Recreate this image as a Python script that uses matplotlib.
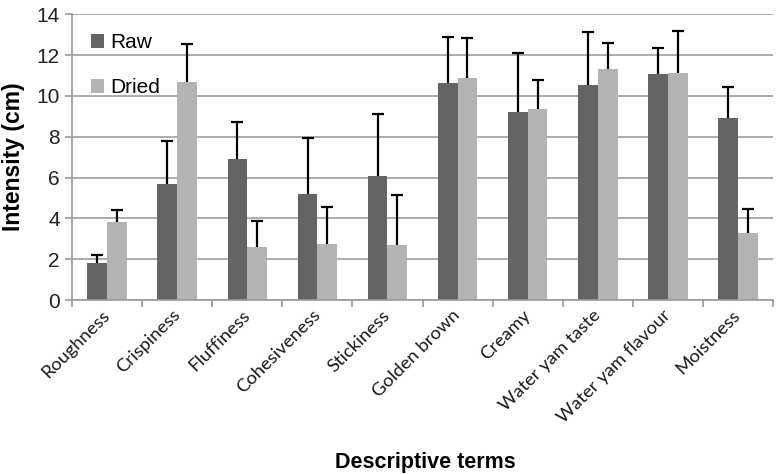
import matplotlib.pyplot as plt
import numpy as np

# Sensory attributes
terms = ["Roughness", "Crispiness", "Fluffiness", "Cohesiveness", "Stickiness",
         "Golden brown", "Creamy", "Water yam taste", "Water yam flavour", "Moistness"]

raw_mean = [1.8, 5.7, 6.9, 5.2, 6.1, 10.65, 9.2, 10.55, 11.05, 8.9]
raw_err = [0.4, 2.1, 1.8, 2.75, 3.0, 2.25, 2.9, 2.6, 1.3, 1.55]
dried_mean = [3.8, 10.7, 2.6, 2.75, 2.7, 10.9, 9.35, 11.3, 11.1, 3.3]
dried_err = [0.6, 1.85, 1.25, 1.8, 2.45, 1.95, 1.45, 1.3, 2.1, 1.15]

yticks = [0, 2, 4, 6, 8, 10, 12, 14]

fig = plt.figure(figsize=(7.76, 4.74), dpi=100)
ax = fig.add_axes([0.093, 0.367, 0.903, 0.603])

x = np.arange(len(terms))
w = 0.283
err_kw = dict(ecolor="black", elinewidth=1.6, capsize=4.5, capthick=1.6)

b1 = ax.bar(x - w / 2, raw_mean, w, color="#646464", label="Raw", zorder=2,
            yerr=[np.zeros(len(raw_err)), raw_err], error_kw=err_kw)
b2 = ax.bar(x + w / 2, dried_mean, w, color="#b3b3b3", label="Dried", zorder=2,
            yerr=[np.zeros(len(dried_err)), dried_err], error_kw=err_kw)
# only the upper cap is shown
for b in (b1, b2):
    b.errorbar.lines[1][0].set_visible(False)

ax.set_xlim(-0.5, len(terms) - 0.5)
ax.set_ylim(0, 14)
ax.set_yticks(yticks)
ax.yaxis.grid(True, color="#a6a6a6", linewidth=1.3, zorder=0)
ax.set_axisbelow(True)

for s in ["top", "right"]:
    ax.spines[s].set_visible(False)
ax.spines["left"].set_color("#999999")
ax.spines["bottom"].set_color("#999999")
ax.spines["left"].set_linewidth(1.2)
ax.spines["bottom"].set_linewidth(1.2)

ax.set_xticks(x)
ax.set_xticks(np.arange(-0.5, len(terms)), minor=True)
ax.tick_params(axis="x", which="major", length=0, pad=9)
ax.tick_params(axis="x", which="minor", length=5, color="#999999", width=1.2)
ax.tick_params(axis="y", length=5, color="#999999", width=1.2, labelsize=15,
               labelcolor="#222222", pad=4)
for t in ax.get_yticklabels():
    t.set_family("Liberation Sans")

ax.set_xticklabels(terms, rotation=45, ha="right", va="center",
                   rotation_mode="anchor", fontsize=13.3, family="Lato",
                   color="#1a1a1a")

ax.set_ylabel("Intensity (cm)", fontsize=16.5, fontweight="bold",
              family="Liberation Sans", labelpad=8)
fig.text(0.548, 0.025, "Descriptive terms", ha="center", va="center",
         fontsize=15.5, fontweight="bold", family="Liberation Sans")

ax.legend(loc="upper left", bbox_to_anchor=(0.0, 1.0), frameon=False,
          handlelength=0.65, handleheight=0.65,
          labelspacing=1.25, handletextpad=0.3,
          prop={"family": "Liberation Sans", "size": 15})

plt.savefig("out.png", dpi=100)
plt.close()
